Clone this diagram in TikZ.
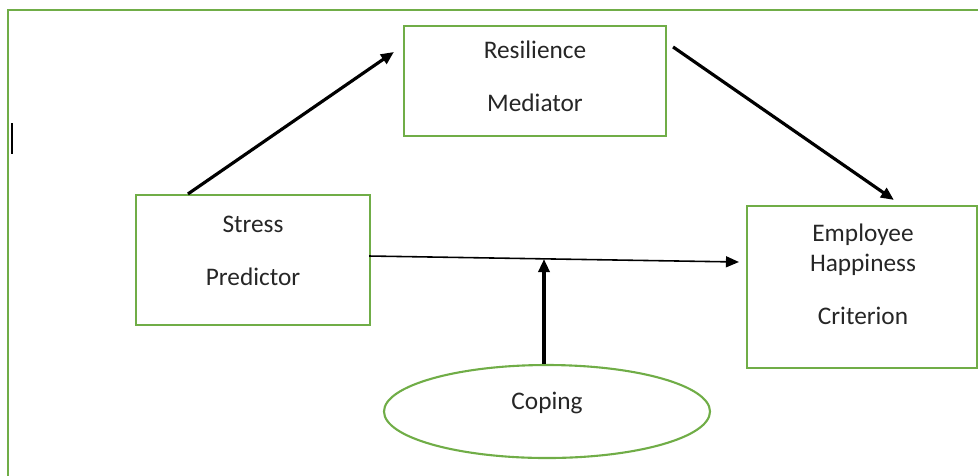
\documentclass[tikz,border=0pt]{standalone}
\usepackage{fontspec}
\setmainfont{Carlito}
\usepackage{xcolor}
\definecolor{boxgreen}{RGB}{112,173,71}
\definecolor{txtgray}{RGB}{38,38,38}
\usetikzlibrary{arrows.meta,positioning,shapes.geometric,calc}

\begin{document}
\begin{tikzpicture}[
    gbox/.style={rectangle, draw=boxgreen, line width=0.6pt, inner sep=0pt},
    goval/.style={ellipse, draw=boxgreen, line width=0.6pt, inner sep=0pt},
    lbl/.style={font=\fontsize{7.2pt}{8.6pt}\selectfont, text=txtgray,
                text height=4.7pt, text depth=0pt, inner sep=0pt},
    path/.style={-{Triangle[length=1.3mm,width=1.1mm]}, line width=0.9pt},
    direct/.style={-{Triangle[length=1.3mm,width=1.1mm]}, line width=0.45pt}
  ]
    \useasboundingbox (0,0) rectangle (9.78,4.75);
    \clip (0,0) rectangle (9.78,4.75);

    % Frame and cursor mark
    \draw[boxgreen, line width=0.6pt] (0.08,-0.2) rectangle (10.2,4.65);
    \draw[line width=0.45pt] (0.12,3.52) -- (0.12,3.21);

    % Boxes
    \node[gbox, minimum width=2.62cm, minimum height=1.10cm] (res) at (5.35,3.94) {};
    \node[gbox, minimum width=2.34cm, minimum height=1.30cm] (stress) at (2.53,2.15) {};
    \node[gbox, minimum width=2.30cm, minimum height=1.62cm] (emp) at (8.62,1.88) {};
    \node[goval, minimum width=3.26cm, minimum height=0.93cm] (cope) at (5.47,0.635) {};

    % Box texts
    \foreach \txt/\x/\y/\nm in {
      Resilience/5.35/4.25/resA, Mediator/5.35/3.72/resB,
      Stress/2.53/2.51/strA, Predictor/2.53/1.98/strB,
      Employee/8.63/2.42/empA, Happiness/8.63/2.12/empB, Criterion/8.63/1.59/empC,
      Coping/5.47/0.74/copA
    }{
      \node[lbl] (\nm) at (\x,\y) {\txt};
    }

    % Paths
    \coordinate (meet) at (5.44,2.16);
    \draw[path] ([xshift=0.53cm]stress.north west) -- ([xshift=-0.09cm,yshift=-0.27cm]res.north west);
    \draw[path] ([xshift=0.06cm,yshift=-0.22cm]res.north east) -- ([xshift=1.48cm,yshift=0.05cm]emp.north west);
    \draw[direct] ([xshift=-0.02cm,yshift=0.04cm]stress.east) -- ([xshift=-0.07cm,yshift=0.25cm]emp.west);
    \draw[path] ([xshift=-0.03cm]cope.north) -- (meet);
  \end{tikzpicture}
\end{document}
